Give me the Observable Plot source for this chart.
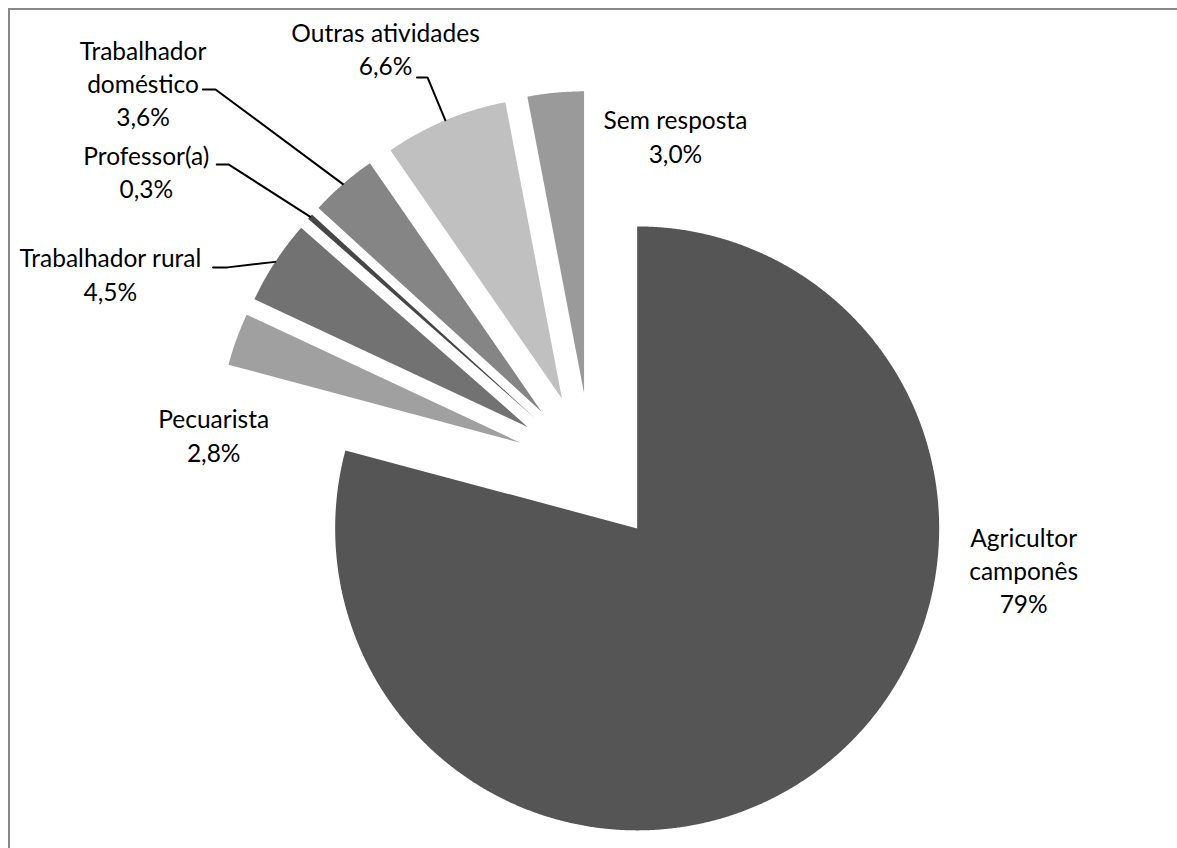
<!DOCTYPE html>
<html>
<head>
<meta charset="utf-8">
<script src="https://cdn.jsdelivr.net/npm/d3@7"></script>
<script src="https://cdn.jsdelivr.net/npm/@observablehq/plot@0.6"></script>
<style>
  html, body { margin: 0; padding: 0; background: #ffffff; overflow: hidden; }
  #frame {
    position: absolute; left: 8px; top: 8px;
    width: 1167px; height: 838px; overflow: hidden;
    border-left: 2px solid #898989; border-top: 2px solid #898989;
    background: #ffffff;
  }
  #frame svg { display: block; }
</style>
</head>
<body>
<div id="frame"></div>
<script>
// ---- data ----
const names = ["Agricultor camponês", "Pecuarista", "Trabalhador rural", "Professor(a)", "Trabalhador doméstico", "Outras atividades", "Sem resposta"];
const values = [79, 2.8, 4.5, 0.3, 3.6, 6.6, 3.0];

// ---- styles ----
const colors = ["#555555", "#a0a0a0", "#727272", "#464646", "#858585", "#c0c0c0", "#9a9a9a"];
const wrapped = ["Agricultor camponês", "Trabalhador doméstico"];

// ---- layout (data units: radius = 1, pie centre at origin, y up) ----
const explode = 0.25;
const labelPos = [[1.432, -0.344], [-1.250, 0.103], [-1.592, 0.636], [-1.473, 0.974], [-1.484, 1.268], [-0.681, 1.384], [0.279, 1.093]];
const leaderNames = ["Trabalhador rural", "Professor(a)", "Trabalhador doméstico", "Outras atividades"];
const leaderStart = [[-1.252, 0.666], [-1.240, 1.007], [-1.286, 1.255], [-0.577, 1.295]];
const leaderElbow = [[-1.204, 0.666], [-1.201, 1.007], [-1.244, 1.255], [-0.542, 1.295]];

const fmt = v => (v >= 10 ? v.toFixed(0) : v.toFixed(1).replace(".", ",")) + "%";

const arcs = d3.pie().sort(null).value(d => d)(values);

// slice polygons
const slicePts = [];
const outerMid = {};
arcs.forEach((a, i) => {
  const mid = (a.startAngle + a.endAngle) / 2;
  const ox = explode * Math.sin(mid), oy = explode * Math.cos(mid);
  const name = names[i];
  slicePts.push({name, x: ox, y: oy});
  const n = Math.max(2, Math.ceil((a.endAngle - a.startAngle) / (Math.PI / 720)));
  for (let k = 0; k <= n; k++) {
    const t = a.startAngle + (a.endAngle - a.startAngle) * k / n;
    slicePts.push({name, x: ox + Math.sin(t), y: oy + Math.cos(t)});
  }
  slicePts.push({name, x: ox, y: oy});
  outerMid[name] = [ox + Math.sin(mid), oy + Math.cos(mid)];
});

// labels
const labels = names.map((name, i) => ({
  name,
  x: labelPos[i][0],
  y: labelPos[i][1],
  text: (wrapped.includes(name) ? name.replace(" ", "\n") : name) + "\n" + fmt(values[i])
}));

// leader lines
const leaderPts = [];
leaderNames.forEach((name, i) => {
  leaderPts.push({name, x: leaderStart[i][0], y: leaderStart[i][1]});
  leaderPts.push({name, x: leaderElbow[i][0], y: leaderElbow[i][1]});
  leaderPts.push({name, x: outerMid[name][0], y: outerMid[name][1]});
});

const chart = Plot.plot({
  width: 1167,
  height: 838,
  margin: 0,
  x: {domain: [-1.9228, 1.9414], axis: null},
  y: {domain: [-1.2583, 1.5166], axis: null},
  color: {domain: names, range: colors},
  style: {background: "#ffffff"},
  marks: [
    Plot.line(slicePts, {x: "x", y: "y", z: "name", fill: "name", stroke: "none"}),
    Plot.line(leaderPts, {x: "x", y: "y", z: "name", stroke: "#000000", strokeWidth: 2, strokeLinejoin: "miter"}),
    Plot.text(labels, {
      x: "x", y: "y", text: "text", dy: -3,
      fontFamily: "Lato, 'Open Sans', sans-serif",
      fontSize: 24.5, lineHeight: 1.35,
      textAnchor: "middle", lineAnchor: "middle",
      fill: "#000000"
    })
  ]
});
document.getElementById("frame").appendChild(chart);
</script>
</body>
</html>
